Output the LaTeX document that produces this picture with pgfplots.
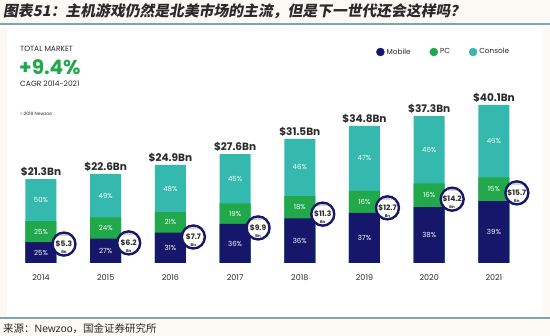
\documentclass[border=0pt]{standalone}
\usepackage{pgfplots}
\pgfplotsset{compat=1.18}
\usepackage{pgfplotstable}
\usepackage{fontspec}
\setmainfont{Poppins}
\newfontfamily\cjk{Noto Sans CJK SC}[FakeSlant=0.18]
\newfontfamily\cjkplain{Noto Sans CJK SC}
\newfontfamily\arial{Liberation Sans}
\definecolor{navyc}{HTML}{16166B}
\definecolor{pcc}{HTML}{20A84A}
\definecolor{conc}{HTML}{35B9AE}
\definecolor{cream}{HTML}{FCF9F4}
\definecolor{linec}{HTML}{7FA6AE}
\definecolor{txt}{HTML}{2A2A2A}

\newcommand\badge[1]{\shortstack{{\fontsize{2.8}{3}\selectfont\color{gray}MOBILE}\\[0.8pt]{\fontsize{7.5}{7.5}\selectfont\bfseries\$#1}\\[0.6pt]{\fontsize{4}{4}\selectfont\bfseries Bn}}}

\pgfplotstableread{
idx year total mob pc con mobp pcp conp by
0 2014 21.3 5.3 5.3 10.7 25 25 50 4.8
1 2015 22.6 6.2 5.4 11.0 27 24 49 5.1
2 2016 24.9 7.7 5.2 12.0 31 21 48 6.6
3 2017 27.6 9.9 5.2 12.5 36 19 45 8.9
4 2018 31.5 11.3 5.7 14.5 36 18 46 12.4
5 2019 34.8 12.7 5.6 16.5 37 16 47 14.0
6 2020 37.3 14.2 6.0 17.1 38 16 46 16.2
7 2021 40.1 15.7 6.0 18.4 39 15 46 17.8
}\data

\begin{document}
\begin{tikzpicture}[x=1pt,y=1pt]
\useasboundingbox (0,0) rectangle (550,336);
\fill[cream] (0,0) rectangle (550,336);
\fill[white] (7,19) rectangle (543,311);
\draw[linec, line width=1.2pt] (0,312) -- (550,312);
\draw[linec, line width=1.2pt] (0,18) -- (550,18);
\node[anchor=west, inner sep=0pt, text=txt] at (3,324.5)
  {\cjk\bfseries\fontsize{14.8}{15}\selectfont 图表51：主机游戏仍然是北美市场的主流，但是下一世代还会这样吗？};
\node[anchor=west, inner sep=0pt, text=txt] at (3,7.5)
  {\fontsize{10.5}{12}\selectfont\cjkplain 来源：{\arial Newzoo}，国金证券研究所};

\node[anchor=west, inner sep=0pt, text=txt] at (20,287) {\fontsize{7.5}{9}\selectfont TOTAL MARKET};
\node[anchor=west, inner sep=0pt, text=pcc] at (19,269) {\fontsize{20}{22}\selectfont\bfseries +9.4\%};
\node[anchor=west, inner sep=0pt, text=txt] at (20,252) {\fontsize{7.5}{9}\selectfont CAGR 2014-2021};
\node[anchor=west, inner sep=0pt, text=txt] at (20,222) {\fontsize{4.5}{5}\selectfont ©2018 Newzoo};

\begin{axis}[
  at={(8.65pt,73pt)}, anchor=south west,
  scale only axis, width=517.6pt, height=197pt,
  xmin=-0.5, xmax=7.5, ymin=0, ymax=50,
  hide axis, clip=false,
  legend columns=3,
  legend style={at={(axis description cs:0.704,1.071)}, anchor=west,
    draw=none, fill=none, font=\fontsize{7.3}{8}\selectfont, text=txt,
    /tikz/every even column/.append style={column sep=17pt}},
]
\addplot[ybar, bar width=31pt, bar shift=0pt, fill=conc, draw=none, forget plot,
  nodes near coords={\$\pgfplotspointmeta Bn},
  point meta=explicit symbolic,
  every node near coord/.style={anchor=south, yshift=2.5pt, inner sep=0pt, text=txt,
    font=\fontsize{10.5}{11}\selectfont\bfseries}]
  table[x=idx, y=total, meta=total] {\data};
\addplot[ybar, bar width=31pt, bar shift=0pt, fill=pcc, draw=none, forget plot]
  table[x=idx, y expr=\thisrow{mob}+\thisrow{pc}] {\data};
\addplot[ybar, bar width=31pt, bar shift=0pt, fill=navyc, draw=none, forget plot]
  table[x=idx, y=mob] {\data};

\addplot[draw=none, mark=none, forget plot, nodes near coords={\pgfplotspointmeta\%},
  point meta=explicit symbolic,
  every node near coord/.style={anchor=center, inner sep=0pt, text=white, font=\fontsize{7}{7}\selectfont}]
  table[x=idx, y expr=\thisrow{mob}/2, meta=mobp] {\data};
\addplot[draw=none, mark=none, forget plot, nodes near coords={\pgfplotspointmeta\%},
  point meta=explicit symbolic,
  every node near coord/.style={anchor=center, inner sep=0pt, text=white, font=\fontsize{7}{7}\selectfont}]
  table[x=idx, y expr=\thisrow{mob}+\thisrow{pc}/2, meta=pcp] {\data};
\addplot[draw=none, mark=none, forget plot, nodes near coords={\pgfplotspointmeta\%},
  point meta=explicit symbolic,
  every node near coord/.style={anchor=center, inner sep=0pt, text=white, font=\fontsize{7}{7}\selectfont}]
  table[x=idx, y expr=\thisrow{mob}+\thisrow{pc}+\thisrow{con}/2, meta=conp] {\data};

\addplot[draw=none, mark=none, forget plot, nodes near coords={\pgfplotspointmeta},
  point meta=explicit symbolic,
  every node near coord/.style={anchor=north, yshift=-11pt, inner sep=0pt, text=txt, font=\fontsize{8}{9}\selectfont}]
  table[x=idx, y expr=0, meta=year] {\data};

\addplot[only marks, mark=*, mark size=11.5pt, mark options={fill=white, draw=navyc, line width=2.4pt}, forget plot,
  nodes near coords={\badge{\pgfplotspointmeta}},
  point meta=explicit symbolic,
  every node near coord/.style={anchor=center, inner sep=0pt, text=txt}]
  table[x expr=\thisrow{idx}+0.355, y=by, meta=mob] {\data};

\addlegendimage{legend image code/.code={\fill[navyc] (4pt,0pt) circle (4pt);}}
\addlegendentry{Mobile}
\addlegendimage{legend image code/.code={\fill[pcc] (4pt,0pt) circle (4pt);}}
\addlegendentry{PC}
\addlegendimage{legend image code/.code={\fill[conc] (4pt,0pt) circle (4pt);}}
\addlegendentry{Console}
\end{axis}
\end{tikzpicture}
\end{document}
